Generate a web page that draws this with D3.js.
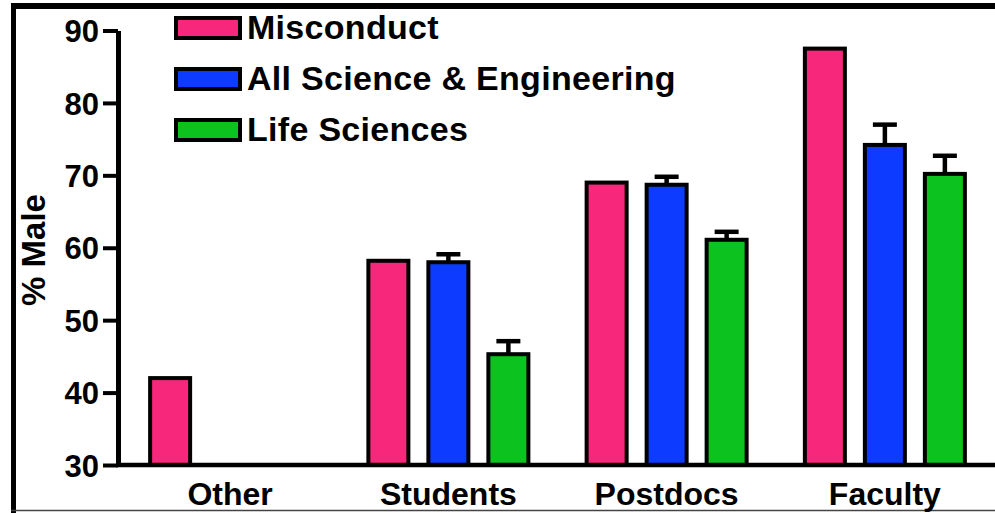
<!DOCTYPE html>
<html>
<head>
<meta charset="utf-8">
<script src="https://cdn.jsdelivr.net/npm/d3@7"></script>
<style>
  body { margin: 0; background: #fff; }
  svg { display: block; font-family: "Liberation Sans", Arial, sans-serif; }
</style>
</head>
<body>
<div id="chart"></div>
<script>
// groups along the x axis and the three series
const categories = ["Other", "Students", "Postdocs", "Faculty"];
const seriesNames = ["Misconduct", "All Science & Engineering", "Life Sciences"];
const seriesColors = ["#F7287B", "#0D3BFF", "#0CC21E"];

// % male per group (null = no bar)
const misconduct = [42.0, 58.2, 69.0, 87.5];
const allSciEng = [null, 58.0, 68.7, 74.2];
const lifeSci = [null, 45.3, 61.1, 70.2];

// upper error bars
const misconductErr = [null, null, null, null];
const allSciEngErr = [null, 1.1, 1.1, 2.8];
const lifeSciErr = [null, 1.8, 1.1, 2.5];

const yTicks = [30, 40, 50, 60, 70, 80, 90];

const W = 995, H = 513;
const svg = d3.select("#chart").append("svg")
    .attr("width", W)
    .attr("height", H);

// black frame around the picture
svg.append("line").attr("x1", 11).attr("x2", W).attr("y1", 6).attr("y2", 6)
    .attr("stroke", "#000").attr("stroke-width", 6);
svg.append("line").attr("x1", 13.5).attr("x2", 13.5).attr("y1", 3).attr("y2", H)
    .attr("stroke", "#000").attr("stroke-width", 5);
svg.append("line").attr("x1", 11).attr("x2", W).attr("y1", 510.5).attr("y2", 510.5)
    .attr("stroke", "#444").attr("stroke-width", 1.5);

const y = d3.scaleLinear().domain([30, 90]).range([465, 30.5]);

const x0 = d3.scaleBand().domain(categories).range([121, 994]).padding(0);
const x1 = d3.scaleBand().domain(seriesNames)
    .range([x0.bandwidth() / 2 - 82, x0.bandwidth() / 2 + 82])
    .paddingInner(16 / 60).paddingOuter(0);

const values = [misconduct, allSciEng, lifeSci];
const errs = [misconductErr, allSciEngErr, lifeSciErr];

const rows = [];
categories.forEach(function (c, i) {
    seriesNames.forEach(function (s, j) {
        if (values[j][i] != null) {
            rows.push({ cat: c, series: s, idx: j, value: values[j][i], err: errs[j][i] });
        }
    });
});

// bars
svg.append("g").selectAll("rect")
    .data(rows)
    .join("rect")
    .attr("x", d => x0(d.cat) + x1(d.series) + 2)
    .attr("width", x1.bandwidth() - 4)
    .attr("y", d => y(d.value))
    .attr("height", d => y(30) - y(d.value))
    .attr("fill", d => seriesColors[d.idx])
    .attr("stroke", "#000")
    .attr("stroke-width", 4);

// error bars (upper only)
const errRows = rows.filter(d => d.err != null);
const eb = svg.append("g").attr("stroke", "#000").attr("stroke-width", 4.5);
eb.selectAll(".stem")
    .data(errRows)
    .join("line")
    .attr("class", "stem")
    .attr("x1", d => x0(d.cat) + x1(d.series) + x1.bandwidth() / 2)
    .attr("x2", d => x0(d.cat) + x1(d.series) + x1.bandwidth() / 2)
    .attr("y1", d => y(d.value))
    .attr("y2", d => y(d.value + d.err));
eb.selectAll(".cap")
    .data(errRows)
    .join("line")
    .attr("class", "cap")
    .attr("x1", d => x0(d.cat) + x1(d.series) + x1.bandwidth() / 2 - 12)
    .attr("x2", d => x0(d.cat) + x1(d.series) + x1.bandwidth() / 2 + 12)
    .attr("y1", d => y(d.value + d.err))
    .attr("y2", d => y(d.value + d.err));

// x axis: labels from d3 axis, baseline drawn by hand so it meets the y axis
const xAxis = svg.append("g")
    .attr("transform", "translate(0," + y(30) + ")")
    .call(d3.axisBottom(x0).tickSize(0));
xAxis.select(".domain").remove();
xAxis.selectAll("text")
    .attr("y", 40)
    .attr("dy", 0)
    .attr("fill", "#000")
    .style("font-size", "32px")
    .style("font-weight", "bold");
svg.append("line")
    .attr("x1", 116).attr("x2", W)
    .attr("y1", y(30)).attr("y2", y(30))
    .attr("stroke", "#000").attr("stroke-width", 4.5);

// y axis
const yAxis = svg.append("g")
    .attr("transform", "translate(118,0)")
    .call(d3.axisLeft(y).tickValues(yTicks).tickSize(15).tickSizeOuter(0).tickPadding(4));
yAxis.select(".domain").attr("stroke-width", 5);
yAxis.selectAll(".tick line").attr("stroke-width", 4);
yAxis.selectAll("text")
    .attr("dy", "0.36em")
    .attr("fill", "#000")
    .style("font-size", "31px")
    .style("font-weight", "bold");

svg.append("text")
    .attr("transform", "translate(45,250) rotate(-90)")
    .attr("text-anchor", "middle")
    .style("font-size", "33px")
    .style("font-weight", "bold")
    .text("% Male");

// legend
const legend = svg.append("g").selectAll("g")
    .data(seriesNames)
    .join("g")
    .attr("transform", (d, i) => "translate(176," + (28 + i * 51) + ")");
legend.append("rect")
    .attr("x", 0).attr("y", -10)
    .attr("width", 64).attr("height", 20)
    .attr("fill", (d, i) => seriesColors[i])
    .attr("stroke", "#000")
    .attr("stroke-width", 4);
legend.append("text")
    .attr("x", 71).attr("y", 11)
    .style("font-size", "34px")
    .style("font-weight", "bold")
    .style("letter-spacing", "0.3px")
    .text(d => d);
</script>
</body>
</html>
